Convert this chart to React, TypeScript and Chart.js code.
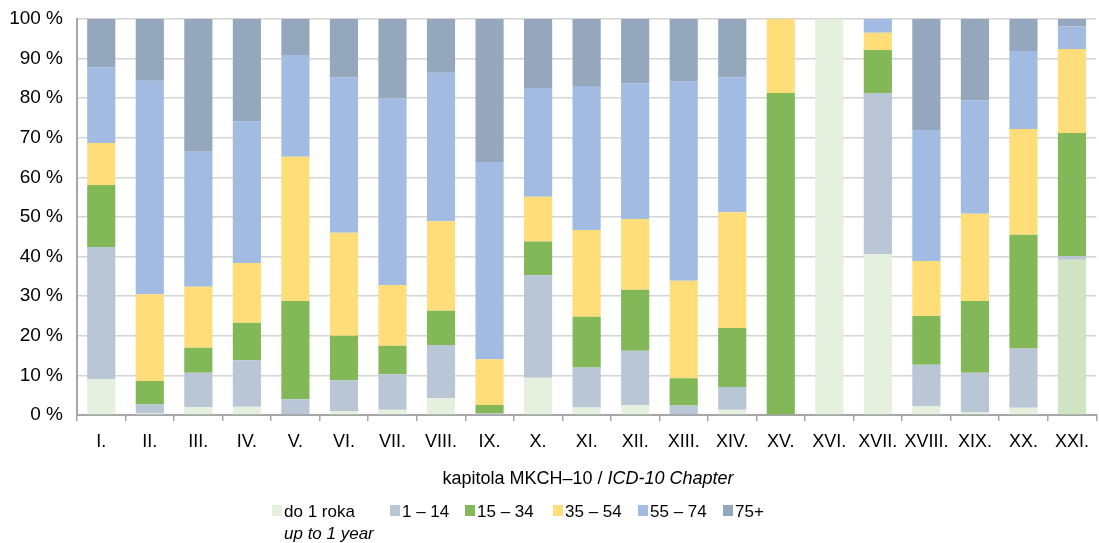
import React, { useEffect, useRef } from "react";
import { Chart, registerables } from "chart.js";

Chart.register(...registerables);

const chapters = ["I.", "II.", "III.", "IV.", "V.", "VI.", "VII.", "VIII.", "IX.", "X.", "XI.", "XII.", "XIII.", "XIV.", "XV.", "XVI.", "XVII.", "XVIII.", "XIX.", "XX.", "XXI."];

const under1 = [9.1, 0.4, 2.0, 2.1, 0, 1.0, 1.3, 4.2, 0, 9.4, 1.9, 2.5, 0, 1.3, 0, 100, 40.6, 2.3, 0.6, 1.8, 39.2];
const age1to14 = [33.3, 2.3, 8.7, 11.7, 4.0, 7.8, 9.0, 13.5, 0.4, 25.9, 10.1, 13.7, 2.4, 5.8, 0, 0, 40.7, 10.4, 10.1, 15.0, 0.9];
const age15to34 = [15.7, 5.9, 6.3, 9.5, 24.8, 11.2, 7.2, 8.6, 2.1, 8.5, 12.8, 15.4, 6.9, 14.9, 81.3, 0, 10.9, 12.3, 18.1, 28.7, 31.1];
const age35to54 = [10.6, 21.9, 15.4, 15.1, 36.4, 26.0, 15.3, 22.6, 11.6, 11.3, 21.9, 17.9, 24.6, 29.2, 18.7, 0, 4.3, 13.9, 22.0, 26.7, 21.2];
const age55to74 = [19.1, 53.9, 34.1, 35.8, 25.7, 39.3, 47.2, 37.5, 49.8, 27.5, 36.4, 34.3, 50.4, 34.1, 0, 0, 3.5, 33.1, 28.7, 19.7, 5.7];
const age75plus = [12.2, 15.6, 33.5, 25.8, 9.1, 14.7, 20.0, 13.6, 36.1, 17.4, 16.9, 16.2, 15.7, 14.7, 0, 0, 0, 28.0, 20.5, 8.1, 1.9];

const seriesNames = ["do 1 roka", "1 – 14", "15 – 34", "35 – 54", "55 – 74", "75+"];
const seriesColors = ["#E6F0DE", "#B9C6D5", "#82B858", "#FFDE7A", "#A2BBE2", "#95A7BD"];
const under1LastColor = "#D0E4C2";

const FONT = "'Liberation Sans', Arial, sans-serif";

export default function App() {
  const canvasRef = useRef<HTMLCanvasElement | null>(null);

  useEffect(() => {
    document.body.style.margin = "0";
    const canvas = canvasRef.current;
    if (!canvas) return;
    const values = [under1, age1to14, age15to34, age35to54, age55to74, age75plus];
    const datasets = values.map((data, i) => ({
      label: seriesNames[i],
      data,
      backgroundColor:
        i === 0
          ? data.map((_, j) => (j === data.length - 1 ? under1LastColor : seriesColors[0]))
          : seriesColors[i],
      borderWidth: 0,
      barPercentage: 0.58,
      categoryPercentage: 1,
    }));
    const chart = new Chart(canvas, {
      type: "bar",
      data: { labels: chapters, datasets },
      options: {
        animation: false,
        responsive: false,
        maintainAspectRatio: false,
        layout: { padding: { top: 19, right: 0, bottom: 83, left: 0 } },
        plugins: { legend: { display: false }, tooltip: { enabled: false }, title: { display: false } },
        scales: {
          x: {
            stacked: true,
            grid: { display: true, offset: true, drawOnChartArea: false, drawTicks: true, tickLength: 6, color: "#A6A6A6", lineWidth: 1.5 },
            border: { display: true, color: "#A6A6A6", width: 2 },
            ticks: { color: "#000", font: { family: FONT, size: 18 }, padding: 10, maxRotation: 0, autoSkip: false },
            afterFit: (scale: any) => {
              scale.height = 45;
              scale.paddingTop = 0;
              scale.paddingBottom = 0;
            },
          },
          y: {
            stacked: true,
            min: 0,
            max: 100,
            grid: { color: "#D4D4D4", lineWidth: 1.5, drawTicks: false },
            border: { display: true, color: "#A6A6A6", width: 2 },
            ticks: {
              stepSize: 10,
              color: "#000",
              font: { family: FONT, size: 19 },
              padding: 14,
              callback: (v: any) => `${v} %`,
            },
            afterFit: (scale: any) => {
              scale.width = 77;
              scale.paddingTop = 0;
              scale.paddingBottom = 0;
            },
          },
        },
      },
    });
    return () => chart.destroy();
  }, []);

  const legendItems = [
    { x: 272, name: seriesNames[0] },
    { x: 390, name: seriesNames[1] },
    { x: 465, name: seriesNames[2] },
    { x: 553, name: seriesNames[3] },
    { x: 638, name: seriesNames[4] },
    { x: 723, name: seriesNames[5] },
  ];

  return (
    <div style={{ position: "relative", width: 1099, height: 543, fontFamily: FONT, color: "#000" }}>
      <canvas ref={canvasRef} width={1099} height={543} style={{ position: "absolute", left: 0, top: 0 }} />
      <div
        style={{ position: "absolute", left: 0, width: 1176, top: 467, textAlign: "center", fontSize: 18, lineHeight: "22px", whiteSpace: "nowrap" }}
      >
        kapitola MKCH–10 / <i>ICD-10 Chapter</i>
      </div>
      {legendItems.map((it, i) => (
        <div key={i} style={{ position: "absolute", left: it.x, top: 501, fontSize: 17, lineHeight: "22px", whiteSpace: "nowrap" }}>
          <span
            style={{ position: "absolute", left: 0, top: 4, width: 10, height: 11, background: seriesColors[i] }}
          />
          <div style={{ marginLeft: 12 }}>
            {it.name}
            {i === 0 ? (
              <div>
                <i>up to 1 year</i>
              </div>
            ) : null}
          </div>
        </div>
      ))}
    </div>
  );
}
